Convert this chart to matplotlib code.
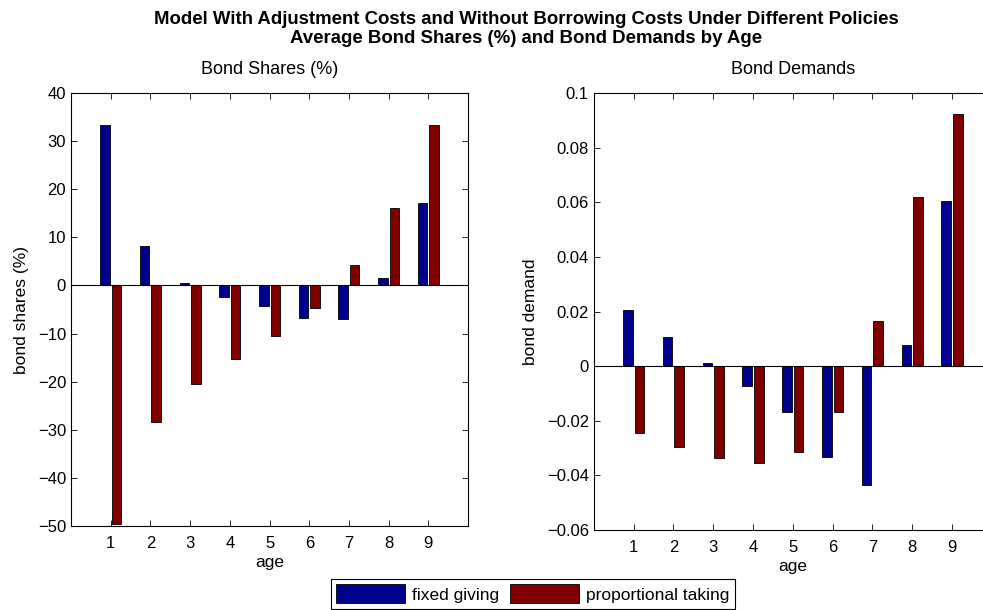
import numpy as np
import matplotlib
matplotlib.use('Agg')
import matplotlib.pyplot as plt
from matplotlib.ticker import FuncFormatter

plt.rcParams['font.family'] = ['Liberation Sans', 'DejaVu Sans']

ages = [1, 2, 3, 4, 5, 6, 7, 8, 9]
policies = ['fixed giving', 'proportional taking']

shares_fixed = [33.3, 8.1, 0.6, -2.5, -4.35, -6.8, -7.0, 1.6, 17.1]
shares_prop = [-49.5, -28.3, -20.5, -15.3, -10.6, -4.7, 4.2, 16.1, 33.4]

demand_fixed = [0.0207, 0.0107, 0.0011, -0.0072, -0.0168, -0.0332, -0.0434, 0.0077, 0.0603]
demand_prop = [-0.0244, -0.0297, -0.0337, -0.0354, -0.0313, -0.0167, 0.0167, 0.0620, 0.0925]

colors = ['#00008f', '#800000']


def fmt(v, pos):
    s = '%g' % round(v, 6)
    return s.replace('-', '\u2212')


def draw(ax, a, b, title, ylabel, ylim, yticks):
    x = np.array(ages)
    ax.bar(x - 0.145, a, width=0.24, color=colors[0], edgecolor='black', linewidth=0.6, label=policies[0], zorder=2)
    ax.bar(x + 0.145, b, width=0.24, color=colors[1], edgecolor='black', linewidth=0.6, label=policies[1], zorder=2)
    ax.axhline(0, color='black', linewidth=0.8, zorder=3)
    ax.set_xlim(0, 10)
    ax.set_ylim(*ylim)
    ax.set_xticks(ages)
    ax.set_yticks(yticks)
    ax.yaxis.set_major_formatter(FuncFormatter(fmt))
    ax.tick_params(direction='in', top=True, right=True, length=4, width=0.6, labelsize=12)
    ax.tick_params(axis='x', pad=7)
    for sp in ax.spines.values():
        sp.set_linewidth(0.8)
    ax.set_title(title, fontsize=13, pad=14)
    ax.set_xlabel('age', fontsize=12.5, labelpad=3)
    ax.set_ylabel(ylabel, fontsize=12.5, labelpad=6)


fig = plt.figure(figsize=(9.83, 6.1), dpi=100)
ax1 = fig.add_axes([0.0722, 0.1377, 0.404, 0.7098])
ax2 = fig.add_axes([0.604, 0.131, 0.405, 0.7165])

draw(ax1, shares_fixed, shares_prop, 'Bond Shares (%)', 'bond shares (%)', (-50, 40), np.arange(-50, 41, 10))
draw(ax2, demand_fixed, demand_prop, 'Bond Demands', 'bond demand', (-0.06, 0.1), np.arange(-0.06, 0.101, 0.02))

fig.text(0.535, 0.982, 'Model With Adjustment Costs and Without Borrowing Costs Under Different Policies\n'
         'Average Bond Shares (%) and Bond Demands by Age',
         ha='center', va='top', fontsize=13.4, fontweight='bold', linespacing=1.12)

handles, labels = ax1.get_legend_handles_labels()
leg = fig.legend(handles, labels, loc='center', bbox_to_anchor=(0.542, 0.0265), ncol=2,
                 fontsize=12.5, handlelength=4.0, handleheight=1.3, columnspacing=0.6,
                 handletextpad=0.4, borderpad=0.3, fancybox=False, edgecolor='black', framealpha=1)
leg.get_frame().set_linewidth(0.8)

plt.savefig('out.png', dpi=100)
